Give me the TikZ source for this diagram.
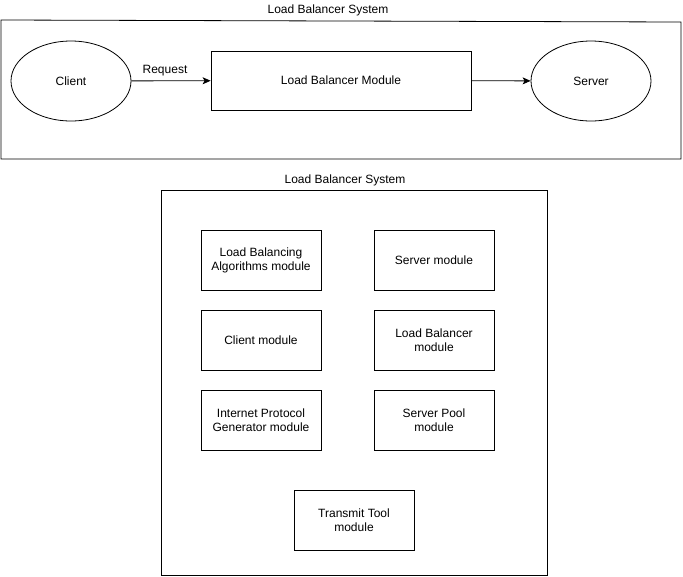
\documentclass[tikz,border=0pt]{standalone}
\usepackage{fontspec}
\setmainfont{Liberation Sans}
\usetikzlibrary{arrows.meta,shapes.geometric}
\begin{document}
\begin{tikzpicture}[x=1pt,y=-1pt,
  txt/.style={font=\fontsize{12}{14}\selectfont, align=center},
  modbox/.style={draw, line width=0.8pt, minimum width=120pt, minimum height=60pt, inner sep=0pt, txt},
  ell/.style={draw, line width=0.8pt, ellipse, minimum width=120pt, minimum height=80pt, inner sep=0pt, txt},
  conn/.style={line width=0.8pt, -{Stealth[length=8pt,width=7pt,inset=2pt]}}
]
\useasboundingbox (0,0) rectangle (683,576);
% top frame
\draw[line width=0.8pt] (1,20) -- (681,22) -- (681,159) -- (1,159) -- cycle;
\node[txt] (t1) at (328,10) {Load Balancer System};
\node[ell] (client) at (71,81) {Client};
\node[modbox, minimum width=260pt, minimum height=59pt] (lbm) at (341,80.5) {Load Balancer Module};
\node[ell] (server) at (591,81) {Server};
\draw[conn] (client) -- node[txt, above, yshift=1pt, xshift=-6pt] (req) {Request} (lbm);
\draw[conn] (lbm) -- (server);
% bottom frame
\node[txt] (t2) at (345,180) {Load Balancer System};
\node[draw, line width=0.8pt, minimum width=386pt, minimum height=385pt, inner sep=0pt] (frame2) at (354,382.5) {};
\node[modbox] (lba) at (261,260.5) {Load Balancing\\Algorithms module};
\node[modbox] (srvm) at (434,260.5) {Server module};
\node[modbox] (clim) at (261,340.5) {Client module};
\node[modbox] (lbmod) at (434,340.5) {Load Balancer\\module};
\node[modbox] (ipg) at (261,420.5) {Internet Protocol\\Generator module};
\node[modbox] (pool) at (434,420.5) {Server Pool\\module};
\node[modbox] (tt) at (354,520.5) {Transmit Tool\\module};
\end{tikzpicture}
\end{document}
